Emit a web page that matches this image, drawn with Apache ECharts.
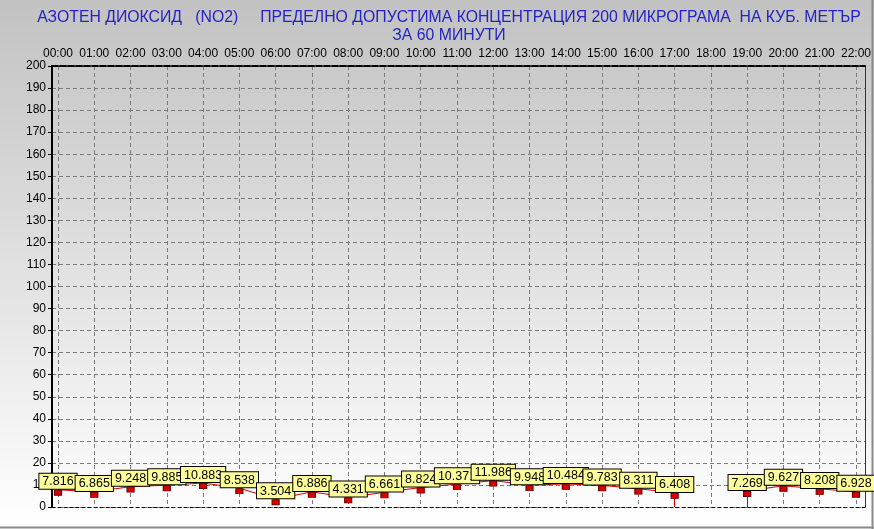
<!DOCTYPE html>
<html><head><meta charset="utf-8">
<script src="https://cdn.jsdelivr.net/npm/echarts@6/dist/echarts.min.js"></script>
<style>html,body{margin:0;padding:0;}#c{width:874px;height:529px;}</style>
</head><body><div id="c"></div>
<script>
var titleLine1 = 'АЗОТЕН ДИОКСИД   (NO2)     ПРЕДЕЛНО ДОПУСТИМА КОНЦЕНТРАЦИЯ 200 МИКРОГРАМА  НА КУБ. МЕТЪР';
var titleLine2 = 'ЗА 60 МИНУТИ';
var hours = ['00:00','01:00','02:00','03:00','04:00','05:00','06:00','07:00','08:00','09:00','10:00','11:00','12:00','13:00','14:00','15:00','16:00','17:00','18:00','19:00','20:00','21:00','22:00'];
var no2 = [7.816,6.865,9.248,9.885,10.883,8.538,3.504,6.886,4.331,6.661,8.824,10.371,11.986,9.948,10.484,9.783,8.311,6.408,null,7.269,9.627,8.208,6.928];
var yMin = 0, yMax = 200, yStep = 10;

var dropLines = [];
for (var i = 0; i < no2.length; i++) {
  if (no2[i] == null) continue;
  var prevNull = (i > 0 && no2[i-1] == null);
  var nextNull = (i < no2.length - 1 && no2[i+1] == null);
  if (prevNull || nextNull) {
    dropLines.push([{coord: [i, no2[i]]}, {coord: [i, 0]}]);
  }
}

var font = 'Liberation Sans, Arial, sans-serif';
var chart = echarts.init(document.getElementById('c'), null, {renderer: 'canvas'});
chart.setOption({
  animation: false,
  backgroundColor: {type: 'linear', x: 0, y: 0, x2: 0, y2: 1,
    colorStops: [{offset: 0, color: '#c2c2c2'}, {offset: 1, color: '#ffffff'}]},
  title: {
    text: titleLine1 + '\n' + titleLine2,
    left: 444, top: 4, textAlign: 'center',
    textStyle: {color: '#2323c8', fontFamily: font, fontSize: 15.8, fontWeight: 'normal', lineHeight: 18}
  },
  graphic: [
    {type: 'line', shape: {x1: 0, y1: 527.5, x2: 874, y2: 527.5}, style: {stroke: '#8a8a8a', lineWidth: 2}},
    {type: 'line', shape: {x1: 872.5, y1: 0, x2: 872.5, y2: 529}, style: {stroke: '#8a8a8a', lineWidth: 2}}
  ],
  grid: [
    {left: 52, right: 9, top: 66, bottom: 22},
    {left: 58, right: 14, top: 66, bottom: 22}
  ],
  xAxis: [
    {gridIndex: 0, type: 'value', min: 0, max: 1, position: 'bottom',
      axisLine: {show: true, onZero: false, lineStyle: {color: '#000', width: 1, type: [3, 3]}},
      axisTick: {show: false}, axisLabel: {show: false}, splitLine: {show: false}},
    {gridIndex: 0, type: 'value', min: 0, max: 1, position: 'top',
      axisLine: {show: true, onZero: false, lineStyle: {color: '#000', width: 2, type: [6, 2]}},
      axisTick: {show: false}, axisLabel: {show: false}, splitLine: {show: false}},
    {gridIndex: 1, type: 'category', data: hours, boundaryGap: false, position: 'top',
      axisLine: {show: false, onZero: false}, axisTick: {show: false},
      axisLabel: {color: '#000', fontFamily: font, fontSize: 12, margin: 6, interval: 0},
      splitLine: {show: true, interval: 0, lineStyle: {color: '#7a7a7a', width: 1, type: [4, 3]}}}
  ],
  yAxis: [
    {gridIndex: 0, type: 'value', min: yMin, max: yMax, interval: yStep, position: 'left',
      axisLine: {show: true, onZero: false, lineStyle: {color: '#000', width: 2}},
      axisTick: {show: true, length: 4, lineStyle: {color: '#000'}},
      axisLabel: {color: '#000', fontFamily: font, fontSize: 12, margin: 6},
      splitLine: {show: true, lineStyle: {color: '#7a7a7a', width: 1, type: [4, 3]}}},
    {gridIndex: 0, type: 'value', min: yMin, max: yMax, position: 'right',
      axisLine: {show: true, onZero: false, lineStyle: {color: '#333', width: 1}},
      axisTick: {show: false}, axisLabel: {show: false}, splitLine: {show: false}},
    {gridIndex: 1, type: 'value', min: yMin, max: yMax, show: false}
  ],
  series: [{
    type: 'line', xAxisIndex: 2, yAxisIndex: 2, data: no2, connectNulls: false,
    lineStyle: {color: '#d00000', width: 1},
    symbol: 'rect', symbolSize: [7, 5], symbolOffset: [0, 3], showAllSymbol: true,
    itemStyle: {color: '#dd0000', borderColor: '#700000', borderWidth: 1},
    label: {
      show: true, position: 'top', distance: 1,
      formatter: function (p) { return p.value == null ? '' : p.value.toFixed(3); },
      color: '#000', fontFamily: font, fontSize: 12.5, lineHeight: 14,
      backgroundColor: '#ffff99', borderColor: '#000', borderWidth: 1, padding: [1, 3, 0, 3]
    },
    markLine: {silent: true, symbol: 'none', label: {show: false},
      lineStyle: {color: '#d00000', width: 1, type: 'solid'}, data: dropLines}
  }]
});
</script></body></html>
